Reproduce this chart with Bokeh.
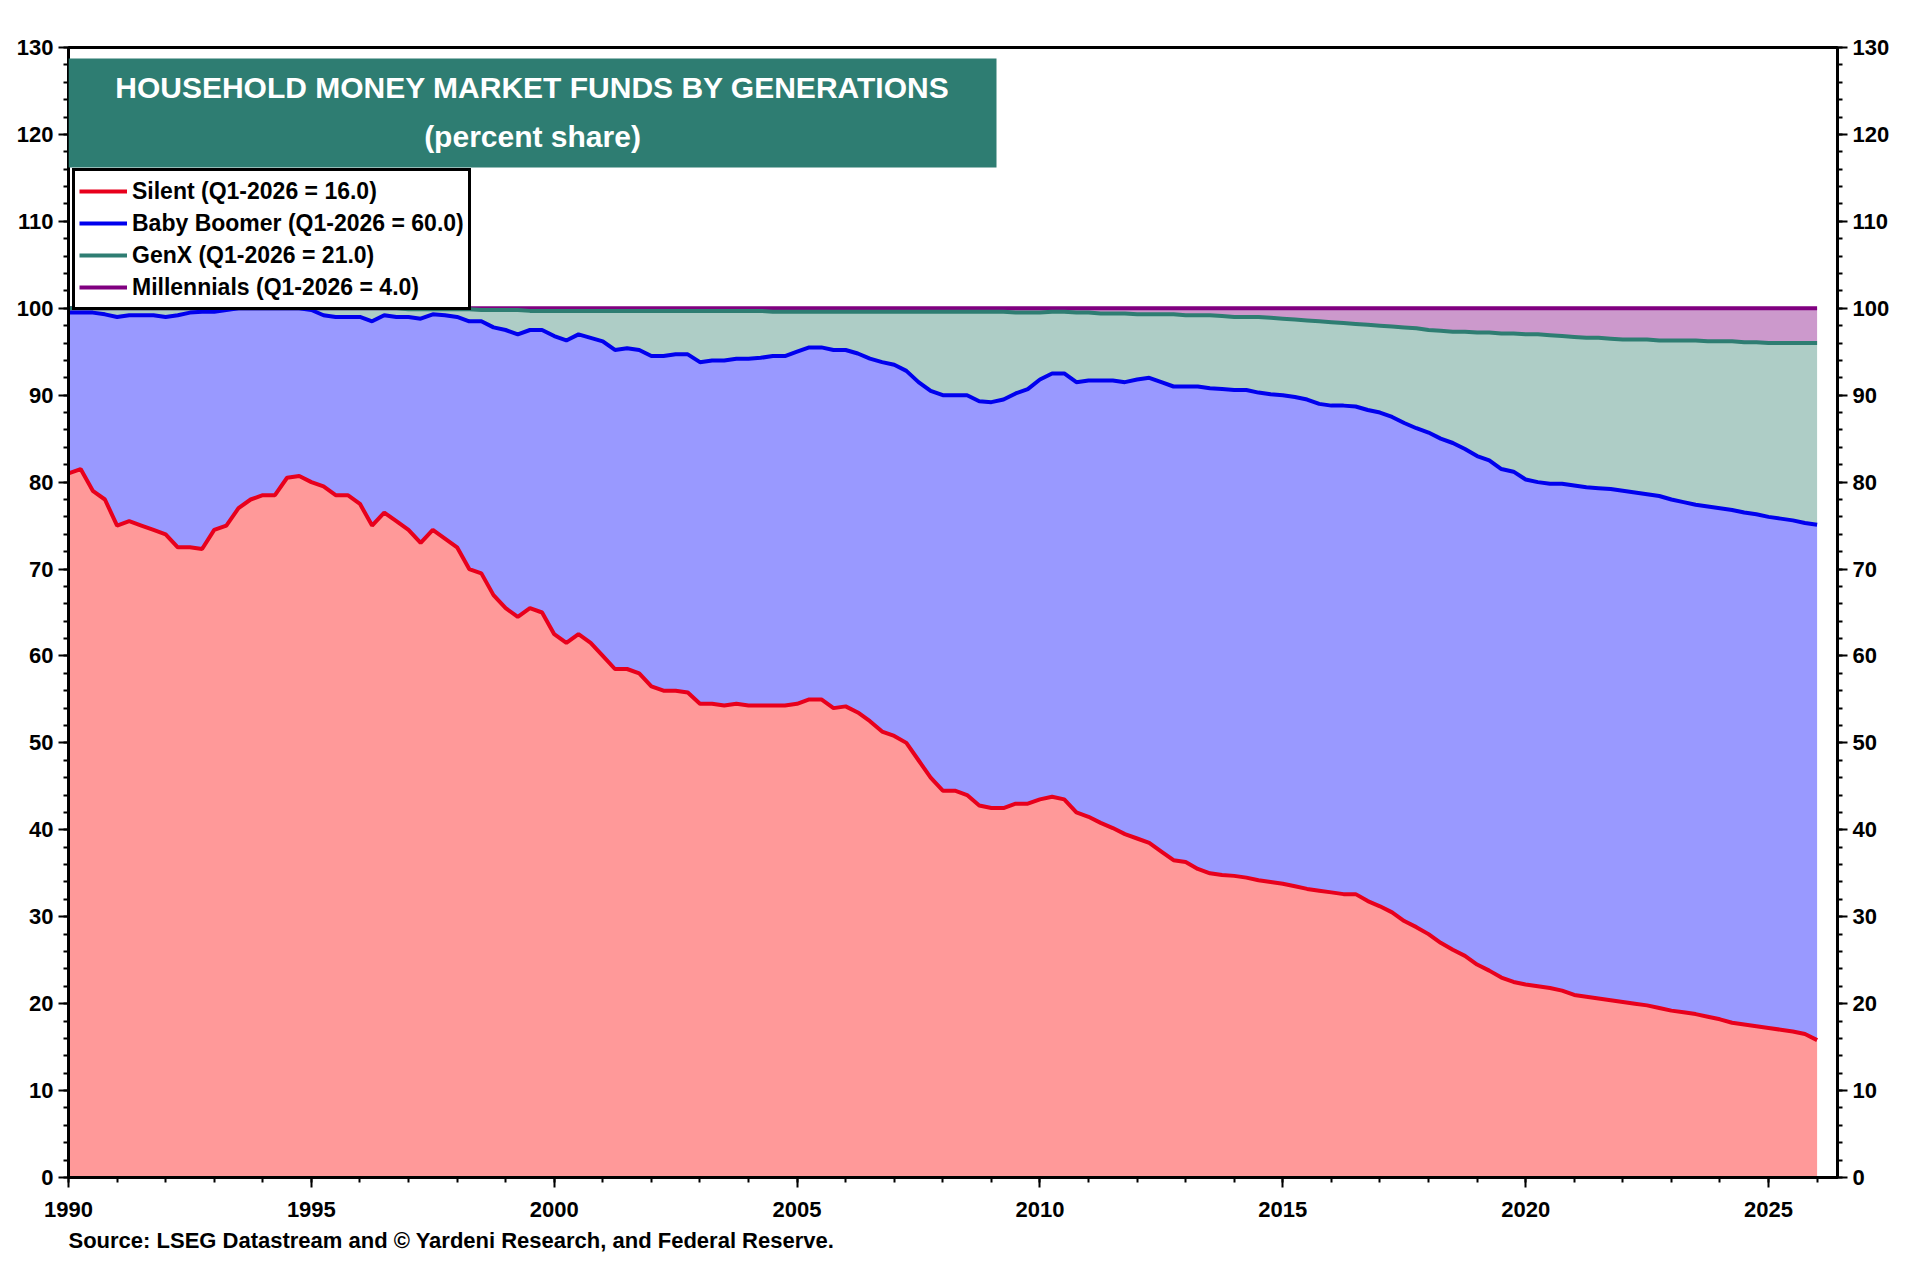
from bokeh.plotting import figure
from bokeh.models import Range1d, LinearAxis, Legend, LegendItem, Label, BoxAnnotation, SingleIntervalTicker, Title
from bokeh.embed import file_html
from bokeh.resources import INLINE

silent = [81,81.5,79,78, 75,75.5,75,74.5, 74,72.5,72.5,72.3, 74.5,75,77,78, 78.5,78.5,80.5,80.7,
          80,79.5,78.5,78.5, 77.5,75,76.5,75.5, 74.5,73,74.5,73.5, 72.5,70,69.5,67, 65.5,64.5,65.5,65,
          62.5,61.5,62.5,61.5, 60,58.5,58.5,58, 56.5,56,56,55.8, 54.5,54.5,54.3,54.5, 54.3,54.3,54.3,54.3,
          54.5,55,55,54, 54.2,53.5,52.5,51.3, 50.8,50,48,46, 44.5,44.5,44,42.8, 42.5,42.5,43,43,
          43.5,43.8,43.5,42, 41.5,40.8,40.2,39.5, 39,38.5,37.5,36.5, 36.3,35.5,35,34.8, 34.7,34.5,34.2,34,
          33.8,33.5,33.2,33, 32.8,32.6,32.6,31.8, 31.2,30.5,29.5,28.8, 28,27,26.2,25.5, 24.5,23.8,23,22.5,
          22.2,22,21.8,21.5, 21,20.8,20.6,20.4, 20.2,20,19.8,19.5, 19.2,19,18.8,18.5, 18.2,17.8,17.6,17.4,
          17.2,17,16.8,16.5, 15.8]
boomer_cum = [99.5,99.5,99.5,99.3, 99,99.2,99.2,99.2, 99,99.2,99.5,99.6, 99.6,99.8,100,100, 100,100,100,100,
          99.8,99.2,99,99, 99,98.5,99.2,99, 99,98.8,99.3,99.2, 99,98.5,98.5,97.8, 97.5,97,97.5,97.5,
          96.8,96.3,97,96.6, 96.2,95.2,95.4,95.2, 94.5,94.5,94.7,94.7, 93.8,94,94,94.2, 94.2,94.3,94.5,94.5,
          95,95.5,95.5,95.2, 95.2,94.8,94.2,93.8, 93.5,92.8,91.5,90.5, 90,90,90,89.3, 89.2,89.5,90.2,90.7,
          91.8,92.5,92.5,91.5, 91.7,91.7,91.7,91.5, 91.8,92,91.5,91, 91,91,90.8,90.7, 90.6,90.6,90.3,90.1,
          90,89.8,89.5,89, 88.8,88.8,88.7,88.3, 88,87.5,86.8,86.2, 85.7,85,84.5,83.8, 83,82.5,81.5,81.2,
          80.3,80,79.8,79.8, 79.6,79.4,79.3,79.2, 79,78.8,78.6,78.4, 78,77.7,77.4,77.2, 77,76.8,76.5,76.3,
          76,75.8,75.6,75.3, 75.1]
genx_cum = [100,100,100,100, 100,100,100,100, 100,100,100,100, 100,100,100,100, 100,100,100,100,
          100,100,100,100, 100,100,100,100, 99.9,99.9,99.9,99.9, 99.9,99.9,99.8,99.8, 99.8,99.8,99.7,99.7,
          99.7,99.7,99.7,99.7, 99.7,99.7,99.7,99.7, 99.7,99.7,99.7,99.7, 99.7,99.7,99.7,99.7, 99.7,99.7,99.6,99.6,
          99.6,99.6,99.6,99.6, 99.6,99.6,99.6,99.6, 99.6,99.6,99.6,99.6, 99.6,99.6,99.6,99.6, 99.6,99.6,99.5,99.5,
          99.5,99.6,99.6,99.5, 99.5,99.4,99.4,99.4, 99.3,99.3,99.3,99.3, 99.2,99.2,99.2,99.1, 99,99,99,98.9,
          98.8,98.7,98.6,98.5, 98.4,98.3,98.2,98.1, 98,97.9,97.8,97.7, 97.5,97.4,97.3,97.3, 97.2,97.2,97.1,97.1,
          97,97,96.9,96.8, 96.7,96.6,96.6,96.5, 96.4,96.4,96.4,96.3, 96.3,96.3,96.3,96.2, 96.2,96.2,96.1,96.1,
          96,96,96,96, 96]
mill_cum = [100.0] * len(silent)
years = [1990 + i * 0.25 for i in range(len(silent))]
labels = ["Silent (Q1-2026 = 16.0)", "Baby Boomer (Q1-2026 = 60.0)", "GenX (Q1-2026 = 21.0)", "Millennials (Q1-2026 = 4.0)"]

FONT = "Liberation Sans"
p = figure(width=1900, height=1258, output_backend="svg", toolbar_location=None,
           x_range=Range1d(1990, 2026.42), y_range=Range1d(0, 130),
           min_border_left=68, min_border_right=63, min_border_top=47, min_border_bottom=20)
p.grid.visible = False
p.outline_line_color = "black"
p.outline_line_width = 3

zero = [0] * len(silent)
fills = ["#FF9999", "#9999FF", "#AECDC6", "#CC99CC"]
lines = ["#E8001C", "#0000EE", "#2E7D72", "#800080"]
layers = [zero, silent, boomer_cum, genx_cum, mill_cum]
items = []
for i in range(4):
    p.varea(x=years, y1=layers[i], y2=layers[i + 1], fill_color=fills[i])
for i in range(3, -1, -1):
    r = p.line(years, layers[i + 1], line_color=lines[i], line_width=4)
    items.insert(0, LegendItem(label=labels[i], renderers=[r]))

p.xaxis.ticker = SingleIntervalTicker(interval=5, num_minor_ticks=5)
p.yaxis.ticker = SingleIntervalTicker(interval=10, num_minor_ticks=5)
right = LinearAxis(ticker=SingleIntervalTicker(interval=10, num_minor_ticks=5))
p.add_layout(right, "right")
for ax in p.xaxis + p.yaxis:
    ax.axis_line_width = 3
    ax.major_tick_line_width = 2
    ax.minor_tick_line_width = 2
    ax.major_tick_out = 10
    ax.major_tick_in = 0
    ax.minor_tick_out = 5
    ax.minor_tick_in = 0
    ax.major_label_text_font = FONT
    ax.major_label_text_font_style = "bold"
    ax.major_label_text_font_size = "22px"
    ax.major_label_text_color = "black"
p.xaxis.major_label_standoff = 14

src = Title(text="Source: LSEG Datastream and © Yardeni Research, and Federal Reserve.",
            text_font=FONT, text_font_style="bold", text_font_size="22px", text_color="black",
            align="left", offset=0, standoff=12)
p.add_layout(src, "below")

title_box = BoxAnnotation(left_units="screen", right_units="screen", top_units="screen", bottom_units="screen",
                          left=0, right=928, top=1119, bottom=1010,
                          fill_color="#2E7D72", fill_alpha=1.0, line_color=None)
p.add_layout(title_box)
p.add_layout(Label(x=464, y=1090, x_units="screen", y_units="screen", text="HOUSEHOLD MONEY MARKET FUNDS BY GENERATIONS",
                   text_align="center", text_baseline="middle", text_color="white", text_font=FONT,
                   text_font_style="bold", text_font_size="30px"))
p.add_layout(Label(x=464, y=1041, x_units="screen", y_units="screen", text="(percent share)",
                   text_align="center", text_baseline="middle", text_color="white", text_font=FONT,
                   text_font_style="bold", text_font_size="30px"))

leg = Legend(items=items, location=(4, 867), label_text_font=FONT,
             label_text_font_style="bold", label_text_font_size="23px", label_text_color="black",
             border_line_color="black", border_line_alpha=1.0, border_line_width=3, padding=4, spacing=0,
             glyph_width=48, label_height=32, glyph_height=32, margin=0, background_fill_alpha=1.0)
p.add_layout(leg)

open("out.html", "w").write(file_html(p, INLINE))
